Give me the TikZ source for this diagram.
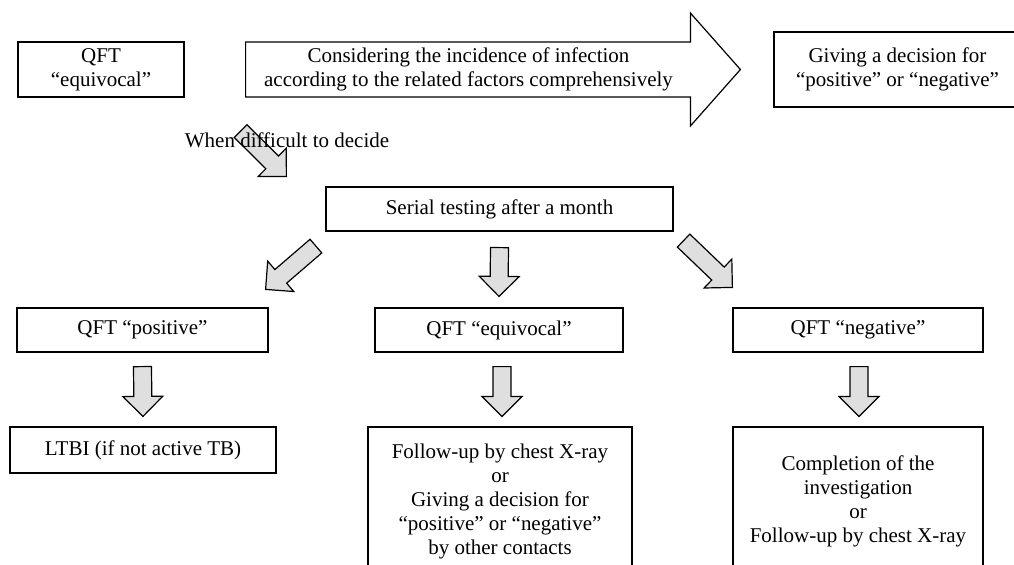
\documentclass[tikz,border=0pt]{standalone}
\usepackage{fontspec}
\setmainfont{Liberation Serif}
\usetikzlibrary{calc}
\begin{document}
\begin{tikzpicture}[x=0.5pt,y=-0.5pt,font=\fontsize{10.5}{12}\selectfont]

\tikzstyle{box} = [rectangle,draw=black,line width=0.6pt,align=center,inner sep=0pt];
\tikzstyle{plain} = [rectangle,inner sep=0pt,align=center];
\tikzset{arrbody/.store in=\arrbody, arrhead/.store in=\arrhead, arrlen/.store in=\arrlen}
\tikzstyle{fatarrow} = [draw=black,line width=0.6pt,fill=gray!25,arrbody=4.5pt,arrhead=10pt,arrlen=10pt,
  to path={let \p1=(\tikztostart), \p2=(\tikztotarget), \n1={atan2(\y2-\y1,\x2-\x1)} in
    ($(\p1)+(\n1+90:\arrbody)$) -- ($(\p2)+(\n1+180:\arrlen)+(\n1+90:\arrbody)$)
    -- ($(\p2)+(\n1+180:\arrlen)+(\n1+90:\arrhead)$) -- (\p2)
    -- ($(\p2)+(\n1+180:\arrlen)+(\n1-90:\arrhead)$) -- ($(\p2)+(\n1+180:\arrlen)+(\n1-90:\arrbody)$)
    -- ($(\p1)+(\n1-90:\arrbody)$) -- cycle}];
\tikzstyle{bigarrow} = [fatarrow,fill=white,arrbody=13.75pt,arrhead=28.25pt,arrlen=25pt];

\useasboundingbox (0,0) rectangle (1014,564);

% top row
\node[box,minimum width=83pt,minimum height=27.5pt] (qft) at (101,69.5) {QFT\\“equivocal”};
\node[box,minimum width=123.5pt,minimum height=37.5pt] (decision) at (897.5,69.5) {Giving a decision for\\“positive” or “negative”};
\draw[bigarrow] ([xshift=30.5pt]qft.east) to ([xshift=-16.5pt]decision.west);
\node[plain] (consider) at (468.5,69.5) {Considering the incidence of infection\\according to the related factors comprehensively};

\node[box,minimum width=173.5pt,minimum height=22pt] (serial) at (499.5,209) {Serial testing after a month};
\draw[fatarrow] ([xshift=28pt,yshift=-16.75pt]qft.south east) to ([xshift=-19.5pt,yshift=5pt]serial.north west);
\node[plain] (hard) at (287,140) {When difficult to decide};

% results
\node[box,minimum width=125.5pt,minimum height=22pt] (pos) at (142.5,330) {QFT “positive”};
\node[box,minimum width=124pt,minimum height=22pt] (equ) at (499,330) {QFT “equivocal”};
\node[box,minimum width=125pt,minimum height=22pt] (neg) at (858,330) {QFT “negative”};

\draw[fatarrow] ([xshift=-4.75pt,yshift=-7.25pt]serial.south west) to ([xshift=-1.5pt,yshift=9pt]pos.north east);
\draw[fatarrow] ([yshift=-8pt]serial.south) to ([yshift=5.5pt]equ.north);
\draw[fatarrow] ([xshift=5pt,yshift=-4.5pt]serial.south east) to ([yshift=10pt]neg.north west);

% outcomes
\node[box,minimum width=133pt,minimum height=23pt] (ltbi) at (143,450) {LTBI (if not active TB)};
\node[box,minimum width=132pt,minimum height=74pt] (follow) at (500,501) {Follow-up by chest X-ray\\or\\Giving a decision for\\“positive” or “negative”\\by other contacts};
\node[box,minimum width=125pt,minimum height=74pt] (complete) at (858,501) {Completion of the\\investigation\\or\\Follow-up by chest X-ray};

\draw[fatarrow] ([yshift=-7pt]pos.south) to ([yshift=5pt]ltbi.north);
\draw[fatarrow] ([xshift=1.5pt,yshift=-7pt]equ.south) to ([xshift=1pt,yshift=5pt]follow.north);
\draw[fatarrow] ([xshift=0.5pt,yshift=-7pt]neg.south) to ([xshift=0.5pt,yshift=5pt]complete.north);

\end{tikzpicture}
\end{document}
